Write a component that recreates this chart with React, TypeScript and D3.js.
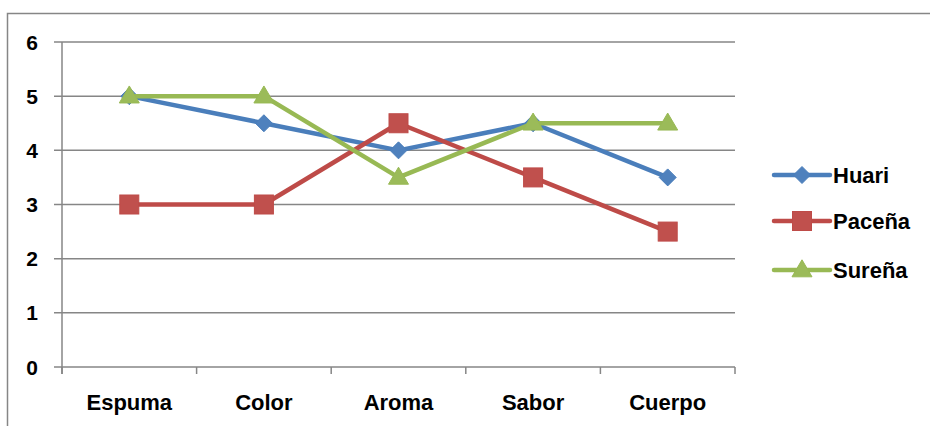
import React from "react";
import * as d3 from "d3";

const categories = ["Espuma", "Color", "Aroma", "Sabor", "Cuerpo"];
const huari = [5, 4.5, 4, 4.5, 3.5];
const pacena = [3, 3, 4.5, 3.5, 2.5];
const surena = [5, 5, 3.5, 4.5, 4.5];
const yTicks = [0, 1, 2, 3, 4, 5, 6];
const seriesNames = ["Huari", "Paceña", "Sureña"];

const W = 930, H = 426;
const left = 62, right = 735, top = 42, bottom = 367;
const colors = ["#4A7EBB", "#BE4B48", "#98B954"];
const fills = ["#4F81BD", "#C0504D", "#9BBB59"];
const font = "'Liberation Sans', Arial, sans-serif";

function Marker({ kind, x, y }: { kind: number; x: number; y: number }) {
  if (kind === 0) {
    const s = 8.5;
    return <path d={`M${x},${y - s}L${x + s},${y}L${x},${y + s}L${x - s},${y}Z`} fill={fills[0]} stroke={colors[0]} strokeWidth={1} />;
  }
  if (kind === 1) {
    const s = 9.5;
    return <rect x={x - s} y={y - s} width={2 * s} height={2 * s} fill={fills[1]} stroke={colors[1]} strokeWidth={1} />;
  }
  const h = 17, w = 20;
  return <path d={`M${x},${y - h * 0.6}L${x + w / 2},${y + h * 0.4}L${x - w / 2},${y + h * 0.4}Z`} fill={fills[2]} stroke={colors[2]} strokeWidth={1} />;
}

export default function App() {
  const x = d3.scaleBand<string>().domain(categories).range([left, right]);
  const y = d3.scaleLinear().domain([0, 6]).range([bottom, top]);
  const cx = (c: string) => (x(c) as number) + x.bandwidth() / 2;
  const data = [huari, pacena, surena];
  const line = d3.line<number>().x((_, i) => cx(categories[i])).y((d) => y(d));
  const xTickPos = categories.map((c) => x(c) as number).concat([right]);
  const legendY = [175, 221, 270];

  return (
    <div style={{ position: "absolute", left: 0, top: 0 }}>
      <svg width={W} height={H} style={{ display: "block", background: "#fff" }}>
        <rect x={7.5} y={13.5} width={960} height={460} fill="#fff" stroke="#868686" strokeWidth={1.5} />
        {yTicks.map((t) => (
          <g key={t}>
            <line x1={54} x2={right} y1={y(t)} y2={y(t)} stroke="#868686" strokeWidth={1.5} />
            <text x={38} y={y(t)} dy="0.36em" textAnchor="end" fontFamily={font} fontWeight="bold" fontSize={21} fill="#000">{t}</text>
          </g>
        ))}
        <line x1={left} x2={left} y1={top} y2={bottom + 7} stroke="#868686" strokeWidth={1.5} />
        {xTickPos.map((p, i) => (
          <line key={i} x1={p} x2={p} y1={bottom} y2={bottom + 7} stroke="#868686" strokeWidth={1.5} />
        ))}
        {categories.map((c) => (
          <text key={c} x={cx(c)} y={410} textAnchor="middle" fontFamily={font} fontWeight="bold" fontSize={22} fill="#000">{c}</text>
        ))}
        {data.map((s, k) => (
          <g key={k}>
            <path d={line(s) || ""} fill="none" stroke={colors[k]} strokeWidth={4.5} strokeLinejoin="round" strokeLinecap="round" />
            {s.map((v, i) => (
              <Marker key={i} kind={k} x={cx(categories[i])} y={y(v)} />
            ))}
          </g>
        ))}
        {seriesNames.map((n, k) => (
          <g key={n}>
            <line x1={774} x2={830} y1={legendY[k]} y2={legendY[k]} stroke={colors[k]} strokeWidth={4.5} strokeLinecap="round" />
            <Marker kind={k} x={802} y={legendY[k]} />
            <text x={833} y={legendY[k]} dy="0.36em" fontFamily={font} fontWeight="bold" fontSize={22} fill="#000">{n}</text>
          </g>
        ))}
      </svg>
    </div>
  );
}
